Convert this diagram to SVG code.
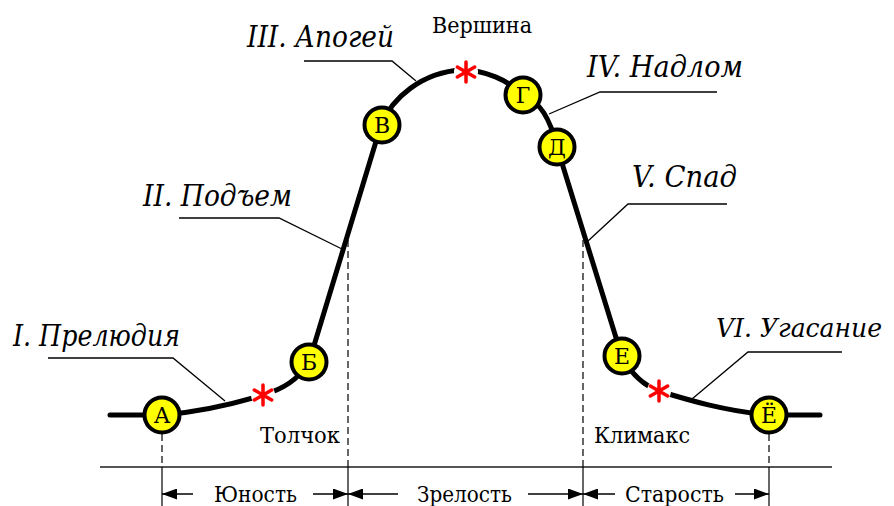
<svg xmlns="http://www.w3.org/2000/svg" width="894" height="506" viewBox="0 0 894 506">
<defs>
<style>
text{font-family:"DejaVu Serif","Liberation Serif",serif;fill:#000}
.curve{fill:none;stroke:#000;stroke-width:5;stroke-linecap:round;stroke-linejoin:round}
.lead{fill:none;stroke:#000;stroke-width:1.3}
.dash{fill:none;stroke:#000;stroke-width:1.2;stroke-dasharray:7,4}
.ext{fill:none;stroke:#000;stroke-width:1.2}
.dim{fill:none;stroke:#000;stroke-width:1.5;marker-end:url(#ah)}
.node circle{fill:#ffff00;stroke:#000;stroke-width:4}
.node text{font-size:22px;text-anchor:middle}
.ital{font-style:italic;font-size:29px}
.lbl{font-size:23px}
.star{fill:none;stroke:#ff0000;stroke-width:3.5;stroke-linecap:round}
</style>
<marker id="ah" viewBox="0 0 15 11" refX="15" refY="5.5" markerWidth="15" markerHeight="11" orient="auto" markerUnits="userSpaceOnUse">
<path d="M0,0 L15,5.5 L0,11 Z" fill="#000"/>
</marker>
</defs>
<rect width="894" height="506" fill="#fff"/>

<g id="axes">
<line x1="100" y1="467" x2="832" y2="467" stroke="#555" stroke-width="2"/>
<line class="dash" x1="162" y1="434" x2="162" y2="467"/>
<line class="dash" x1="348" y1="240" x2="348" y2="467"/>
<line class="dash" x1="583" y1="240" x2="583" y2="467"/>
<line class="dash" x1="769" y1="434" x2="769" y2="467"/>
<line class="ext" x1="162" y1="467" x2="162" y2="506"/>
<line class="ext" x1="348" y1="467" x2="348" y2="506"/>
<line class="ext" x1="583" y1="467" x2="583" y2="506"/>
<line class="ext" x1="769" y1="467" x2="769" y2="506"/>
</g>

<g id="connectors">
<path class="curve" d="M110,415 L162,415 C200,412 240,402 263,395 C283,389 298,380 309,362 L381,125 C392,98 422,72 462,70 C485,70 508,80 523,95 C540,102 550,118 557,147 L622,357 C632,375 645,386 659,391 C688,400 725,411 769,415 L820,415"/>
<path class="lead" d="M48,358 L173,358 L225,401"/>
<path class="lead" d="M179,218 L279,218 L342,249"/>
<path class="lead" d="M304,61 L392,61 L416,81"/>
<path class="lead" d="M717,92 L600,92 L549,114"/>
<path class="lead" d="M727,204 L628,204 L588,241"/>
<path class="lead" d="M842,352 L748,352 L692,399"/>
<line class="dim" x1="193" y1="494" x2="162" y2="494"/>
<line class="dim" x1="313" y1="494" x2="348" y2="494"/>
<line class="dim" x1="398" y1="494" x2="348" y2="494"/>
<line class="dim" x1="528" y1="494" x2="583" y2="494"/>
<line class="dim" x1="615" y1="494" x2="583" y2="494"/>
<line class="dim" x1="735" y1="494" x2="769" y2="494"/>
</g>

<g id="stars">
<g transform="translate(263,395)"><circle r="12" fill="#fff"/><path class="star" d="M0,-10 L0,10 M-8.7,-5 L8.7,5 M-8.7,5 L8.7,-5"/></g>
<g transform="translate(466,72)"><circle r="12" fill="#fff"/><path class="star" d="M0,-10 L0,10 M-8.7,-5 L8.7,5 M-8.7,5 L8.7,-5"/></g>
<g transform="translate(659,391)"><circle r="12" fill="#fff"/><path class="star" d="M0,-10 L0,10 M-8.7,-5 L8.7,5 M-8.7,5 L8.7,-5"/></g>
</g>

<g id="node-A" class="node"><circle cx="162" cy="415" r="17.5"/><text x="162" y="423">А</text></g>
<g id="node-B" class="node"><circle cx="309" cy="362" r="17.5"/><text x="309" y="370">Б</text></g>
<g id="node-V" class="node"><circle cx="382" cy="125" r="17.5"/><text x="382" y="133">В</text></g>
<g id="node-G" class="node"><circle cx="523" cy="95" r="17.5"/><text x="523" y="103">Г</text></g>
<g id="node-D" class="node"><circle cx="557" cy="147" r="17.5"/><text x="557" y="155">Д</text></g>
<g id="node-E" class="node"><circle cx="622" cy="356" r="17.5"/><text x="622" y="364">Е</text></g>
<g id="node-YO" class="node"><circle cx="769" cy="415" r="17.5"/><text x="769" y="423">Ё</text></g>

<g id="labels">
<text class="ital" x="13" y="346" textLength="167" lengthAdjust="spacingAndGlyphs">I. Прелюдия</text>
<text class="ital" x="143" y="206" textLength="149" lengthAdjust="spacingAndGlyphs">II. Подъем</text>
<text class="ital" x="247" y="47" textLength="147" lengthAdjust="spacingAndGlyphs">III. Апогей</text>
<text class="ital" x="587" y="77" textLength="156" lengthAdjust="spacingAndGlyphs">IV. Надлом</text>
<text class="ital" x="632" y="187" textLength="105" lengthAdjust="spacingAndGlyphs">V. Спад</text>
<text class="ital" x="716" y="337" style="font-size:26px" textLength="166" lengthAdjust="spacingAndGlyphs">VI. Угасание</text>
<text class="lbl" x="432" y="33" textLength="100" lengthAdjust="spacingAndGlyphs">Вершина</text>
<text class="lbl" x="260" y="443" textLength="80" lengthAdjust="spacingAndGlyphs">Толчок</text>
<text class="lbl" x="594" y="443" textLength="96" lengthAdjust="spacingAndGlyphs">Климакс</text>
<text class="lbl" x="214" y="502" textLength="83" lengthAdjust="spacingAndGlyphs">Юность</text>
<text class="lbl" x="417" y="502" textLength="95" lengthAdjust="spacingAndGlyphs">Зрелость</text>
<text class="lbl" x="625" y="502" textLength="99" lengthAdjust="spacingAndGlyphs">Старость</text>
</g>
</svg>
